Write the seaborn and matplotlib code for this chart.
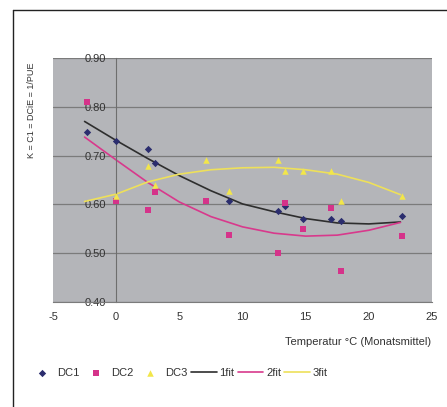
import matplotlib
matplotlib.use('Agg')
import matplotlib.pyplot as plt
from matplotlib.lines import Line2D
import numpy as np
import pandas as pd
import seaborn as sns

sns.set_style('white')
plt.rcParams.update({'font.family': ['Liberation Sans', 'DejaVu Sans'],
                     'font.size': 8,
                     'axes.unicode_minus': False})

# measured points (monthly mean temperature vs K)
dc1_x = [-2.3, 0.0, 2.5, 3.1, 8.9, 12.8, 13.4, 14.8, 17.0, 17.8, 22.6]
dc1_y = [0.748, 0.729, 0.713, 0.685, 0.607, 0.586, 0.597, 0.570, 0.570, 0.565, 0.576]
dc2_x = [-2.3, 0.0, 2.5, 3.1, 7.1, 8.9, 12.8, 13.4, 14.8, 17.0, 17.8, 22.6]
dc2_y = [0.810, 0.606, 0.588, 0.625, 0.607, 0.538, 0.501, 0.602, 0.550, 0.593, 0.464, 0.536]
dc3_x = [0.0, 2.5, 3.1, 7.1, 8.9, 12.8, 13.4, 14.8, 17.0, 17.8, 22.6]
dc3_y = [0.618, 0.678, 0.639, 0.690, 0.627, 0.690, 0.669, 0.669, 0.668, 0.607, 0.617]

# trend lines
fit_x = [-2.5, 0, 2.5, 5, 7.5, 10, 12.5, 15, 17.5, 20, 22.5]
fit1_y = [0.770, 0.731, 0.694, 0.659, 0.628, 0.601, 0.585, 0.571, 0.562, 0.560, 0.564]
fit2_y = [0.738, 0.691, 0.645, 0.605, 0.575, 0.554, 0.541, 0.535, 0.537, 0.547, 0.563]
fit3_y = [0.606, 0.621, 0.646, 0.662, 0.671, 0.675, 0.676, 0.671, 0.662, 0.645, 0.620]

fig = plt.figure(figsize=(4.47, 4.07), dpi=100)
ax = fig.add_axes([53/447, 1-302/407, 379/447, 244/407])
ax.set_facecolor('#b4b5b9')

sns.lineplot(x=fit_x, y=fit1_y, ax=ax, color='#2e2e2e', lw=1.2, label='1fit', zorder=2)
sns.lineplot(x=fit_x, y=fit2_y, ax=ax, color='#d8398c', lw=1.2, label='2fit', zorder=2)
sns.lineplot(x=fit_x, y=fit3_y, ax=ax, color='#eee05a', lw=1.2, label='3fit', zorder=2)
sns.scatterplot(x=dc1_x, y=dc1_y, ax=ax, marker='D', s=14, color='#2b2d6e', linewidth=0, label='DC1', zorder=3)
sns.scatterplot(x=dc2_x, y=dc2_y, ax=ax, marker='s', s=16, color='#d5338a', linewidth=0, label='DC2', zorder=3)
sns.scatterplot(x=dc3_x, y=dc3_y, ax=ax, marker='^', s=22, color='#f2e64a', linewidth=0, label='DC3', zorder=3)
if ax.get_legend():
    ax.get_legend().remove()

ax.set_xlim(-5, 25)
ax.set_ylim(0.40, 0.90)
ax.set_xticks(np.arange(-5, 26, 5))
ax.set_yticks(np.arange(0.4, 0.91, 0.1))
ax.set_yticklabels(['%.2f' % v for v in np.arange(0.4, 0.91, 0.1)])
ax.set_axisbelow(True)
ax.yaxis.grid(True, color='#7b7b7b', lw=0.9)
ax.spines['left'].set_position(('data', 0))
for s in ['top', 'right']:
    ax.spines[s].set_visible(False)
ax.spines['left'].set_color('#6e6e6e')
ax.spines['bottom'].set_color('#7b7b7b')
ax.tick_params(axis='x', direction='out', length=2.5, width=0.8, color='#7b7b7b', pad=5, labelcolor='#333333', labelsize=8)
ax.tick_params(axis='y', direction='inout', length=3, width=0.8, color='#6e6e6e', pad=5.5, labelcolor='#333333', labelsize=8)
ax.set_xlabel('')
ax.set_ylabel('')

fig.text(31/447, 1-110/407, 'K = C1 = DCiE = 1/PUE', rotation=90, ha='center', va='center',
         fontsize=6.5, color='#333333')
fig.text(431/447, 1-342/407, 'Temperatur °C (Monatsmittel)', ha='right', va='center',
         fontsize=8, color='#333333')

h, l = ax.get_legend_handles_labels()
order = ['DC1', 'DC2', 'DC3', '1fit', '2fit', '3fit']
hd = dict(zip(l, h))
fig.legend([hd[k] for k in order], order, loc='center left', bbox_to_anchor=(20/447, 1-373/407),
           ncol=6, frameon=False, fontsize=8, handlelength=2.3, handletextpad=0.25,
           columnspacing=0.3, labelcolor='#333333', borderpad=0.3)

# outer frame (top and left edges)
fig.add_artist(Line2D([13/447, 1], [1-10/407, 1-10/407], color='#222222', lw=1, transform=fig.transFigure))
fig.add_artist(Line2D([13/447, 13/447], [0, 1-10/407], color='#222222', lw=1, transform=fig.transFigure))

fig.savefig('out.png', dpi=100)
